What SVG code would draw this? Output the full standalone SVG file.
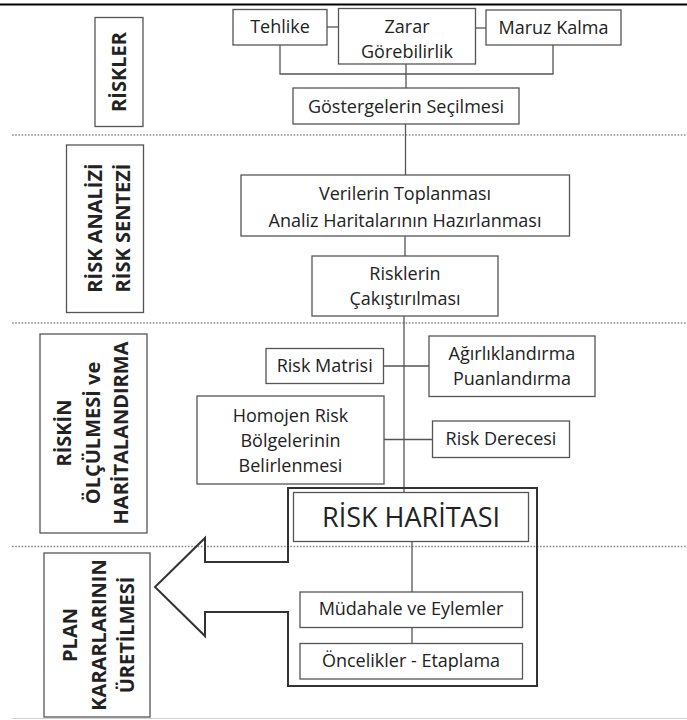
<svg xmlns="http://www.w3.org/2000/svg" width="687" height="720" viewBox="0 0 687 720">
<style>
.box{fill:#fff;stroke:#555;stroke-width:1.3}
.lbl{fill:none;stroke:#555;stroke-width:1.3}
.t{font-family:"Open Sans","Noto Sans","DejaVu Sans",sans-serif;font-size:18px;fill:#222;text-anchor:middle}
.v{font-family:"Open Sans","Noto Sans","DejaVu Sans",sans-serif;font-size:20px;font-weight:700;fill:#222;text-anchor:middle}
.big{font-size:27px}
.c{fill:none;stroke:#555;stroke-width:1.3}
.dot{stroke:#8a8a8a;stroke-width:1.5;stroke-dasharray:1.6 1.6}
</style>
<rect width="687" height="720" fill="#fff"/>
<line x1="0" y1="4.5" x2="687" y2="4.5" stroke="#000" stroke-width="2"/>
<line x1="12" y1="718.5" x2="687" y2="718.5" stroke="#d0d0d0" stroke-width="1"/>

<g id="separators">
<line class="dot" x1="12" y1="135" x2="687" y2="135"/>
<line class="dot" x1="12" y1="323" x2="687" y2="323"/>
<line class="dot" x1="12" y1="546.5" x2="687" y2="546.5"/>
</g>

<g id="connectors">
<line class="c" x1="327" y1="27" x2="338.5" y2="27"/>
<line class="c" x1="475.5" y1="28" x2="486" y2="28"/>
<polyline class="c" points="280,45 280,74 553,74 553,45"/>
<line class="c" x1="406" y1="64" x2="406" y2="88"/>
<line class="c" x1="405.5" y1="124" x2="405.5" y2="175"/>
<line class="c" x1="405" y1="236" x2="405" y2="256"/>
<line class="c" x1="404" y1="316" x2="404" y2="492.5"/>
<line class="c" x1="383.5" y1="366" x2="429" y2="366"/>
<line class="c" x1="384" y1="439.5" x2="432.5" y2="439.5"/>
<line class="c" x1="412" y1="541.5" x2="412" y2="592"/>
<line class="c" x1="412" y1="627.5" x2="412" y2="643.5"/>
</g>

<g id="label-riskler">
<rect class="lbl" x="95" y="17.5" width="48" height="109"/>
<text class="v" transform="translate(119,72) rotate(-90)" x="0" y="7">RİSKLER</text>
</g>
<g id="label-analiz">
<rect class="lbl" x="66.5" y="145" width="77" height="167.5"/>
<text class="v" transform="translate(95,228) rotate(-90)" x="0" y="7">RİSK ANALİZİ</text>
<text class="v" transform="translate(123,228) rotate(-90)" x="0" y="7">RİSK SENTEZİ</text>
</g>
<g id="label-olcum">
<rect class="lbl" x="40" y="334" width="107" height="199"/>
<text class="v" transform="translate(64,433) rotate(-90)" x="0" y="7">RİSKİN</text>
<text class="v" transform="translate(93,433) rotate(-90)" x="0" y="7">ÖLÇÜLMESİ ve</text>
<text class="v" transform="translate(121,433) rotate(-90)" x="0" y="7">HARİTALANDIRMA</text>
</g>
<g id="label-plan">
<rect class="lbl" x="44" y="553" width="106" height="164"/>
<text class="v" transform="translate(70,635) rotate(-90)" x="0" y="7">PLAN</text>
<text class="v" transform="translate(98.5,635) rotate(-90)" x="0" y="7">KARARLARININ</text>
<text class="v" transform="translate(127,635) rotate(-90)" x="0" y="7">ÜRETİLMESİ</text>
</g>

<g id="tehlike">
<rect class="box" x="233" y="9.5" width="94" height="35.5"/>
<text class="t" x="280" y="33.3">Tehlike</text>
</g>
<g id="zarar">
<rect class="box" x="338.5" y="8.5" width="137" height="55.5"/>
<text class="t" x="407" y="33.3">Zarar</text>
<text class="t" x="407" y="58.3">Görebilirlik</text>
</g>
<g id="maruz">
<rect class="box" x="486" y="10" width="135" height="35"/>
<text class="t" x="553.5" y="34">Maruz Kalma</text>
</g>
<g id="gosterge">
<rect class="box" x="293" y="88" width="226" height="36"/>
<text class="t" x="406" y="112.5">Göstergelerin Seçilmesi</text>
</g>
<g id="veriler">
<rect class="box" x="241" y="175" width="328.5" height="61"/>
<text class="t" x="405" y="200">Verilerin Toplanması</text>
<text class="t" x="405" y="226.5">Analiz Haritalarının Hazırlanması</text>
</g>
<g id="cakistirma">
<rect class="box" x="312" y="256" width="186" height="60"/>
<text class="t" x="405" y="280">Risklerin</text>
<text class="t" x="405" y="305">Çakıştırılması</text>
</g>
<g id="matris">
<rect class="box" x="266" y="348.5" width="117.5" height="35"/>
<text class="t" x="324.7" y="371.5">Risk Matrisi</text>
</g>
<g id="agirlik">
<rect class="box" x="429" y="336" width="166" height="60.5"/>
<text class="t" x="512" y="360">Ağırlıklandırma</text>
<text class="t" x="512" y="385">Puanlandırma</text>
</g>
<g id="homojen">
<rect class="box" x="197" y="396" width="187" height="88"/>
<text class="t" x="290.5" y="421.7">Homojen Risk</text>
<text class="t" x="290.5" y="447">Bölgelerinin</text>
<text class="t" x="290.5" y="471.7">Belirlenmesi</text>
</g>
<g id="derece">
<rect class="box" x="432.5" y="421" width="137" height="36.5"/>
<text class="t" x="501" y="445">Risk Derecesi</text>
</g>
<g id="risk-haritasi">
<polygon points="288,488 537,488 537,686 288,686 288,612 205,612 205,636 155,587 205,538 205,562 288,562" fill="none" stroke="#333" stroke-width="2"/>
<rect class="box" x="293.5" y="492.5" width="235" height="49" fill="none"/>
<text class="t big" x="411" y="527">RİSK HARİTASI</text>
</g>
<g id="mudahale">
<rect class="box" x="300" y="592" width="222.5" height="35.5"/>
<text class="t" x="411" y="615">Müdahale ve Eylemler</text>
</g>
<g id="oncelik">
<rect class="box" x="300" y="643.5" width="222.5" height="35.5"/>
<text class="t" x="411" y="666.7">Öncelikler - Etaplama</text>
</g>
</svg>
